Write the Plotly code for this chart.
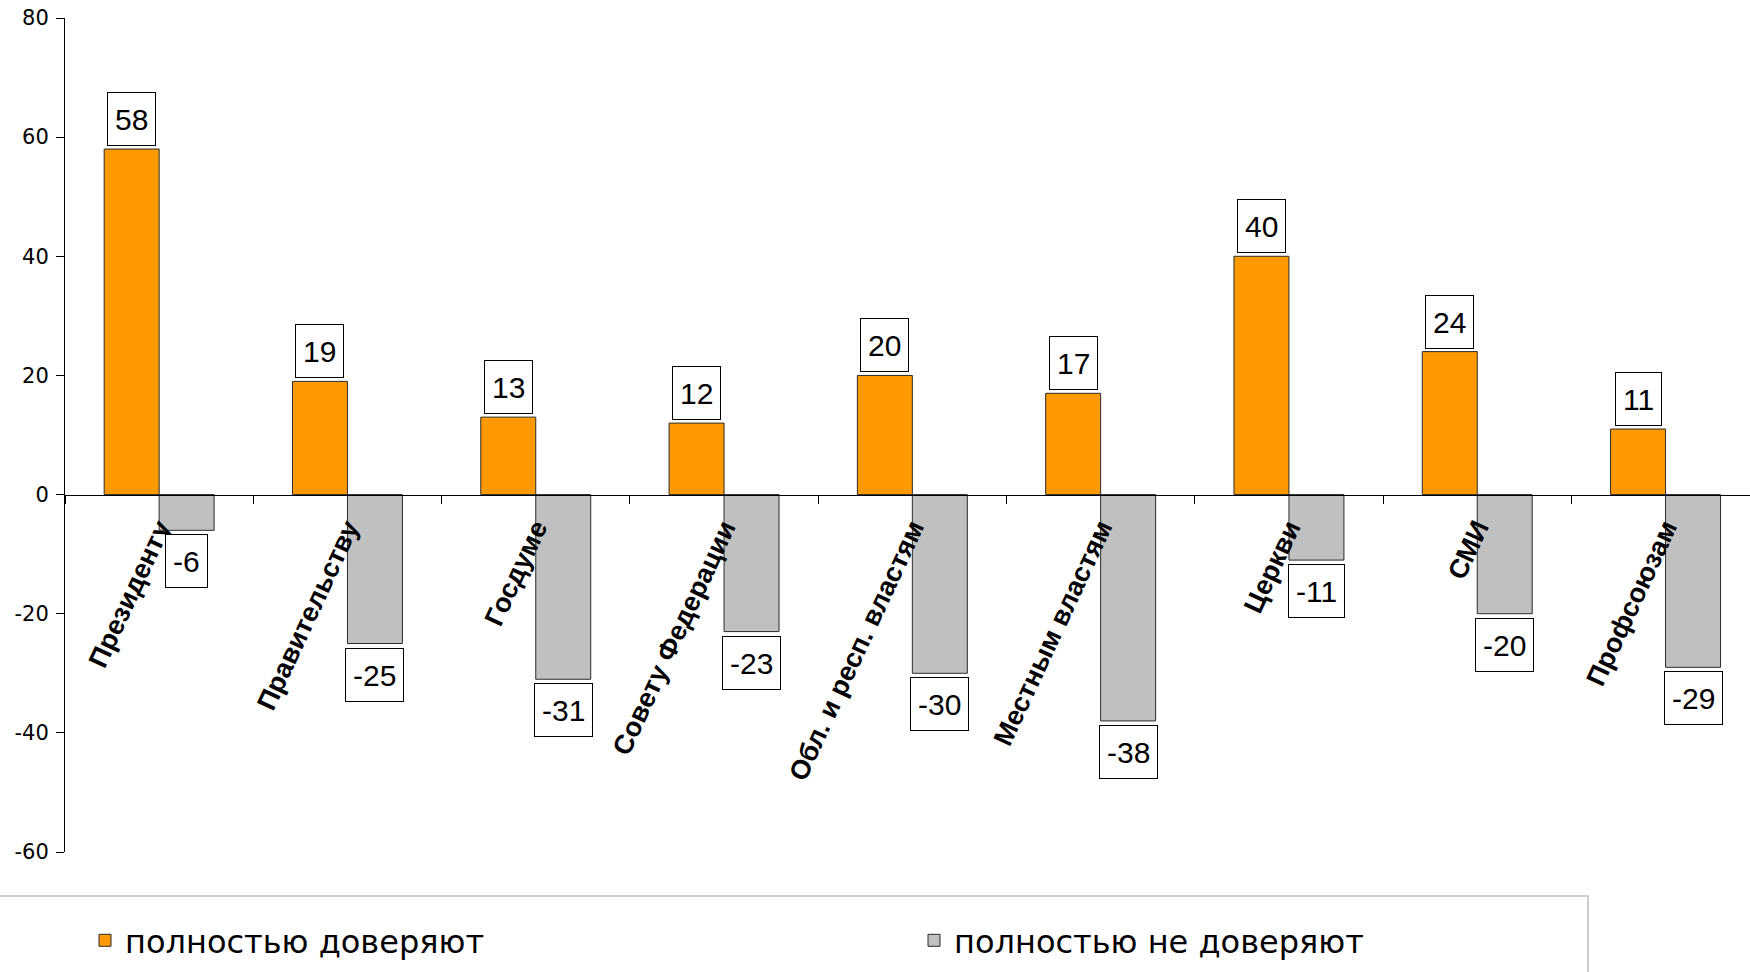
import plotly.graph_objects as go

categories = ["Президенту", "Правительству", "Госдуме", "Совету Федерации",
              "Обл. и респ. властям", "Местным властям", "Церкви", "СМИ", "Профсоюзам"]
trust_full = [58, 19, 13, 12, 20, 17, 40, 24, 11]
distrust_full = [-6, -25, -31, -23, -30, -38, -11, -20, -29]
series_names = ["полностью доверяют", "полностью не доверяют"]
y_ticks = [-60, -40, -20, 0, 20, 40, 60, 80]

W, H = 1750, 972
ML, MR, MT, MB = 65, 0, 18, 120
plot_w = W - ML - MR
plot_h = H - MT - MB
cat_px = 188.3
bargap = 0.416
ymin, ymax = -60, 80

ORANGE = "#FF9900"
GRAY = "#C0C0C0"
EDGE = "#2b2b2b"

fig = go.Figure()
fig.add_trace(go.Bar(x=categories, y=trust_full, name=series_names[0],
                     marker=dict(color=ORANGE, line=dict(color=EDGE, width=1))))
fig.add_trace(go.Bar(x=categories, y=distrust_full, name=series_names[1],
                     marker=dict(color=GRAY, line=dict(color=EDGE, width=1))))

off = (1 - bargap) / 4
ann = []
lab_font = dict(family="Liberation Sans, Arial", size=30, color="black")
for i, v in enumerate(trust_full):
    ann.append(dict(x=i - off, y=v, xref="x", yref="y", text=str(v), showarrow=False,
                    yanchor="bottom", yshift=3, font=lab_font, bgcolor="white", height=38,
                    bordercolor="black", borderwidth=1, borderpad=7))
for i, v in enumerate(distrust_full):
    ann.append(dict(x=i + off, y=v, xref="x", yref="y", text=str(v), showarrow=False,
                    yanchor="top", yshift=-4, font=lab_font, bgcolor="white", height=38,
                    bordercolor="black", borderwidth=1, borderpad=7))

def px_x(px):
    return (px - ML) / plot_w

def px_y(py):
    return (H - MB - py) / plot_h

shapes = [dict(type="rect", xref="paper", yref="paper",
               x0=px_x(-20), x1=px_x(1588), y0=px_y(1000), y1=px_y(896),
               line=dict(color="#BDBDBD", width=1.5), fillcolor="rgba(0,0,0,0)", layer="below")]

x_hi = (W - ML - MR) / cat_px - 0.5

fig.update_layout(
    width=W, height=H,
    margin=dict(l=ML, r=MR, t=MT, b=MB, pad=0, autoexpand=False),
    paper_bgcolor="white", plot_bgcolor="white",
    barmode="group", bargap=bargap, bargroupgap=0,
    showlegend=True,
    legend=dict(orientation="h", x=px_x(85), xanchor="left", y=px_y(913), yanchor="top",
                font=dict(family="DejaVu Sans", size=32, color="black"),
                entrywidth=784, entrywidthmode="pixels", bgcolor="rgba(0,0,0,0)",
                itemclick=False),
    xaxis=dict(type="category", range=[-0.5, x_hi], anchor="free",
               position=(0 - ymin) / (ymax - ymin),
               showline=True, linecolor="black", linewidth=1,
               ticks="outside", tickson="boundaries", ticklen=8, tickcolor="black",
               tickangle=-65, showgrid=False, zeroline=False,
               tickfont=dict(family="Liberation Sans, Arial", size=27, color="black",
                             weight="bold"),
               ticklabelstandoff=6),
    yaxis=dict(range=[ymin, ymax], tickvals=y_ticks, ticktext=[str(t) for t in y_ticks],
               showline=True, linecolor="black",
               linewidth=1, ticks="outside", ticklen=8, tickcolor="black",
               showgrid=False, zeroline=False,
               tickfont=dict(family="DejaVu Sans", size=21, color="black"),
               ticklabelstandoff=3),
    annotations=ann,
    shapes=shapes,
)

fig.write_html("out.html", config={"displayModeBar": False},
               post_script="document.body.style.margin='0';document.body.style.overflow='hidden';")
